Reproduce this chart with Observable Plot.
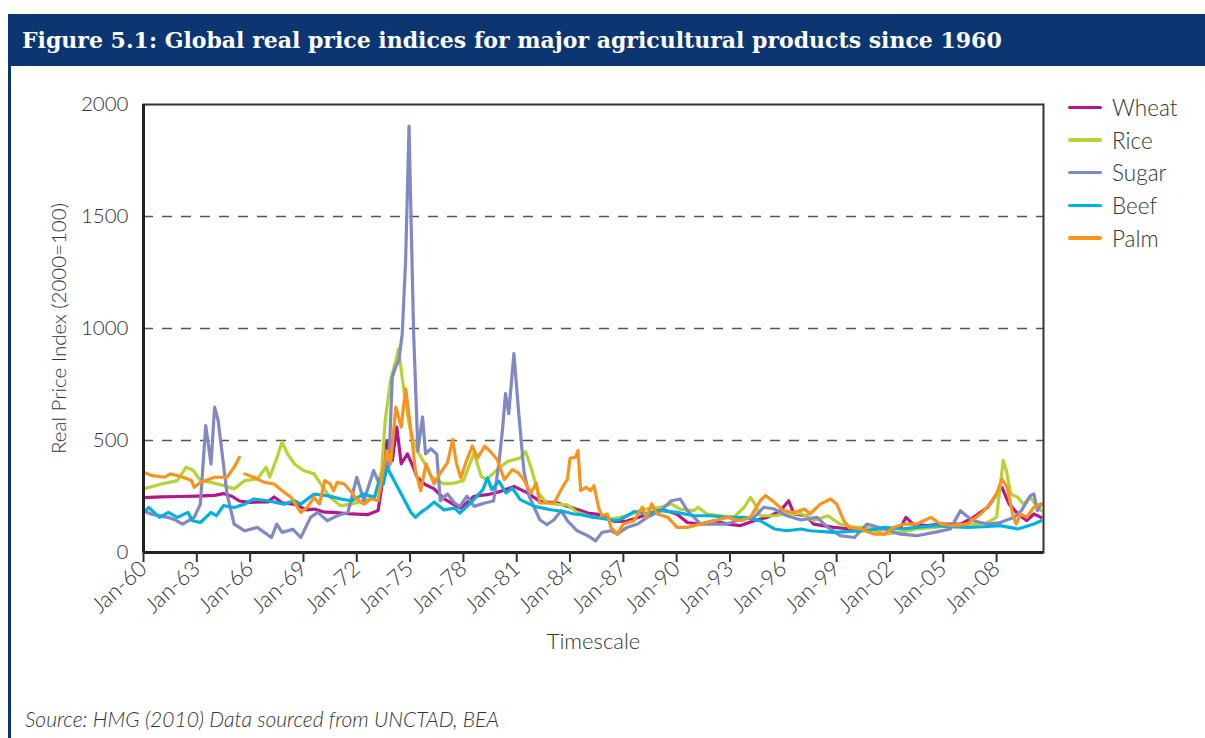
<!DOCTYPE html>
<html><head><meta charset="utf-8">
<script src="https://cdn.jsdelivr.net/npm/d3@7"></script>
<script src="https://cdn.jsdelivr.net/npm/@observablehq/plot@0.6"></script>
<style>
body{margin:0;background:#fff;width:1205px;height:738px;overflow:hidden;position:relative;font-family:Lato,"Open Sans",sans-serif;}
#header{position:absolute;left:8px;top:14px;width:1197px;height:52px;background:#0b3672;}
#title{position:absolute;left:22px;top:26px;color:#fff;font-weight:bold;font-size:22px;line-height:28px;font-family:"DejaVu Serif",serif;white-space:nowrap;}
#border{position:absolute;left:8px;top:66px;width:3px;height:672px;background:#0b3672;}
#chart{position:absolute;left:0;top:70px;}
#legend{position:absolute;left:1068px;top:91px;}
.li{height:32.7px;display:flex;align-items:center;font-size:22.5px;font-weight:300;color:#333;}
.sw{width:34px;height:3.5px;border-radius:2px;margin-right:10px;}
#caption{position:absolute;left:25px;top:706px;font-style:italic;font-weight:300;font-size:21px;color:#333;}
</style></head>
<body>
<div id="header"></div>
<div id="title">Figure 5.1: Global real price indices for major agricultural products since 1960</div>
<div id="border"></div>
<div id="chart"></div>
<div id="legend"></div>
<div id="caption">Source: HMG (2010) Data sourced from UNCTAD, BEA</div>
<script>
const seriesNames = ["Wheat","Rice","Sugar","Beef","Palm"];
const seriesColors = ["#b5178b","#b5d334","#8189c4","#00b0de","#f7941d"];
const xTickYears = [1960,1963,1966,1969,1972,1975,1978,1981,1984,1987,1990,1993,1996,1999,2002,2005,2008];
const yTicks = [0,500,1000,1500,2000];

const wheat = [[1960.0,245],[1961.0,248],[1962.0,250],[1963.0,252],[1964.0,255],[1964.5,263],[1965.0,250],[1965.4,230],[1966.0,224],[1967.0,226],[1967.35,248],[1967.8,222],[1968.5,215],[1969.2,190],[1969.6,194],[1970.2,180],[1970.7,179],[1971.7,172],[1972.6,169],[1973.2,187],[1973.4,291],[1973.7,500],[1974.0,410],[1974.25,560],[1974.5,396],[1974.85,440],[1975.1,396],[1975.4,336],[1975.8,306],[1976.35,284],[1976.9,240],[1977.3,221],[1977.85,198],[1978.6,251],[1979.35,258],[1980.1,273],[1980.85,295],[1981.6,266],[1982.3,228],[1983.3,221],[1984.2,198],[1985.0,176],[1985.7,169],[1986.47,139],[1987.2,140],[1988.0,161],[1988.6,178],[1989.1,194],[1990.0,172],[1990.6,134],[1991.35,127],[1992.1,142],[1992.85,127],[1993.6,120],[1994.35,142],[1995.1,157],[1995.85,187],[1996.3,231],[1996.6,172],[1997.3,164],[1997.7,127],[1998.85,112],[1999.8,105],[2000.7,105],[2001.7,105],[2002.6,112],[2002.9,157],[2003.3,127],[2004.1,120],[2004.85,127],[2005.97,127],[2006.7,157],[2007.5,202],[2008.0,261],[2008.3,291],[2008.7,217],[2009.2,172],[2009.7,142],[2010.1,172],[2010.5,157]];

const rice = [[1960.0,284],[1961.0,306],[1961.9,321],[1962.4,381],[1962.8,366],[1963.2,321],[1963.8,313],[1964.5,299],[1965.1,284],[1965.7,321],[1966.4,328],[1966.9,381],[1967.1,336],[1967.45,410],[1967.8,493],[1968.1,440],[1968.5,395],[1969.0,366],[1969.6,351],[1970.1,291],[1970.5,246],[1971.1,209],[1971.7,216],[1972.4,231],[1973.0,246],[1973.4,366],[1973.6,590],[1973.9,769],[1974.2,858],[1974.35,910],[1974.6,754],[1974.85,619],[1975.05,530],[1975.4,455],[1975.8,400],[1976.2,336],[1976.9,306],[1977.5,310],[1978.0,321],[1978.6,445],[1979.0,340],[1979.3,325],[1979.9,370],[1980.5,407],[1981.2,422],[1981.5,450],[1981.8,381],[1982.2,266],[1982.7,221],[1983.3,215],[1983.85,213],[1984.4,179],[1985.3,157],[1986.3,149],[1987.2,164],[1988.2,194],[1989.1,202],[1989.7,217],[1990.2,194],[1990.97,187],[1991.2,202],[1991.7,172],[1992.5,164],[1993.2,157],[1993.8,202],[1994.15,246],[1994.4,217],[1994.7,164],[1995.5,164],[1996.2,172],[1997.0,175],[1997.7,142],[1998.5,164],[1999.2,127],[2000.0,112],[2000.7,112],[2001.7,82],[2002.6,90],[2003.5,105],[2004.5,112],[2005.4,120],[2006.35,127],[2007.3,127],[2008.0,157],[2008.2,291],[2008.37,411],[2008.55,366],[2008.8,261],[2009.2,246],[2009.5,216],[2009.9,246],[2010.3,202],[2010.5,187]];

const sugar = [[1960.0,185],[1960.5,170],[1961.35,157],[1961.8,145],[1962.2,127],[1962.85,157],[1963.2,216],[1963.5,567],[1963.8,395],[1964.0,649],[1964.2,590],[1964.45,425],[1964.7,261],[1965.1,127],[1965.7,97],[1966.4,112],[1967.2,67],[1967.5,127],[1967.8,90],[1968.4,104],[1968.85,67],[1969.4,157],[1969.8,179],[1970.35,142],[1970.9,164],[1971.5,179],[1972.0,336],[1972.4,231],[1972.95,366],[1973.35,291],[1973.6,411],[1973.8,381],[1974.0,784],[1974.2,830],[1974.37,858],[1974.56,978],[1974.75,1306],[1974.94,1904],[1975.03,1575],[1975.2,978],[1975.44,455],[1975.7,605],[1975.87,440],[1976.16,463],[1976.5,440],[1976.7,231],[1977.1,261],[1977.5,221],[1977.8,206],[1978.2,251],[1978.6,206],[1979.2,221],[1979.7,230],[1980.0,400],[1980.2,549],[1980.37,709],[1980.55,620],[1980.84,888],[1981.1,635],[1981.4,366],[1981.7,251],[1982.3,146],[1982.7,124],[1983.1,146],[1983.5,187],[1983.85,142],[1984.4,97],[1985.0,75],[1985.44,52],[1985.8,90],[1986.3,97],[1986.66,82],[1987.2,112],[1987.8,127],[1988.35,157],[1989.1,187],[1989.7,231],[1990.2,239],[1990.6,187],[1991.35,127],[1992.1,127],[1992.85,127],[1993.6,149],[1994.35,157],[1994.9,202],[1995.5,194],[1996.2,164],[1997.0,145],[1997.9,157],[1998.5,112],[1999.2,75],[2000.0,67],[2000.7,127],[2001.7,105],[2002.6,82],[2003.5,75],[2004.5,90],[2005.4,105],[2005.97,187],[2006.3,164],[2006.7,142],[2007.5,127],[2008.2,134],[2009.0,157],[2009.4,187],[2009.9,254],[2010.1,261],[2010.3,187],[2010.5,216]];

const beef = [[1960.0,179],[1960.3,201],[1960.9,157],[1961.4,179],[1961.9,157],[1962.5,179],[1962.75,142],[1963.2,134],[1963.8,179],[1964.1,164],[1964.5,209],[1965.1,201],[1965.7,216],[1966.2,239],[1967.0,231],[1967.9,216],[1968.5,231],[1968.85,216],[1969.6,261],[1970.35,254],[1971.1,239],[1971.7,231],[1972.4,261],[1973.0,246],[1973.3,330],[1973.5,306],[1973.7,381],[1974.1,321],[1974.5,261],[1975.05,179],[1975.3,157],[1975.6,179],[1976.0,201],[1976.35,225],[1976.9,190],[1977.5,198],[1977.8,176],[1978.4,221],[1979.1,281],[1979.35,333],[1979.6,281],[1980.0,318],[1980.4,266],[1980.75,288],[1981.2,236],[1982.0,206],[1982.9,191],[1983.65,183],[1984.2,172],[1984.6,169],[1985.35,157],[1985.7,154],[1986.5,142],[1986.8,146],[1987.2,164],[1987.6,183],[1988.2,172],[1989.1,187],[1990.0,179],[1990.97,164],[1991.9,164],[1992.85,157],[1993.8,157],[1994.7,142],[1995.5,105],[1996.2,97],[1997.0,105],[1997.5,97],[1998.85,90],[2000.0,95],[2000.7,97],[2001.7,112],[2002.6,105],[2003.5,112],[2004.5,120],[2005.4,115],[2006.35,112],[2007.3,115],[2008.2,120],[2009.2,105],[2010.1,127],[2010.5,142]];

const palm = [[1960.0,358],[1960.5,343],[1961.2,336],[1961.5,351],[1962.1,339],[1962.7,321],[1962.85,291],[1963.2,313],[1964.0,336],[1964.7,336],[1965.1,381],[1965.4,425],[1965.55,null],[1965.7,351],[1966.2,336],[1966.8,313],[1967.35,306],[1967.8,276],[1968.3,246],[1968.85,179],[1969.2,201],[1969.6,246],[1969.9,216],[1970.2,321],[1970.5,306],[1970.7,276],[1970.9,313],[1971.3,306],[1971.7,269],[1972.0,239],[1972.4,216],[1972.8,239],[1973.2,231],[1973.5,381],[1973.7,455],[1973.9,396],[1974.2,649],[1974.5,560],[1974.75,731],[1975.05,545],[1975.3,366],[1975.6,276],[1975.9,396],[1976.35,306],[1976.7,355],[1977.1,400],[1977.4,504],[1977.6,400],[1977.85,333],[1978.2,415],[1978.5,475],[1978.8,422],[1979.2,475],[1979.5,452],[1979.9,415],[1980.3,325],[1980.75,370],[1981.1,355],[1981.4,325],[1981.8,266],[1982.1,310],[1982.3,221],[1983.1,221],[1983.6,295],[1983.85,325],[1984.0,420],[1984.3,425],[1984.45,455],[1984.6,276],[1984.9,291],[1985.16,276],[1985.35,299],[1985.6,202],[1985.8,164],[1986.1,172],[1986.3,112],[1986.66,82],[1987.0,127],[1987.6,142],[1988.06,202],[1988.3,157],[1988.6,217],[1988.9,172],[1989.5,157],[1990.03,112],[1990.6,112],[1991.35,127],[1992.1,142],[1992.85,157],[1993.6,142],[1994.15,157],[1994.7,231],[1995.0,254],[1995.5,224],[1996.0,187],[1996.6,179],[1997.2,194],[1997.5,172],[1998.1,217],[1998.66,239],[1999.0,217],[1999.4,142],[1999.7,112],[2000.35,105],[2001.1,82],[2001.7,82],[2002.2,112],[2002.8,127],[2003.5,127],[2004.3,157],[2004.85,127],[2005.6,120],[2006.35,127],[2007.1,172],[2007.65,217],[2008.0,261],[2008.3,328],[2008.6,291],[2008.9,172],[2009.1,127],[2009.35,172],[2009.7,157],[2010.1,202],[2010.5,217]];

const seriesData = [wheat, rice, sugar, beef, palm];
const rows = seriesNames.flatMap((name, i) => seriesData[i].map(([t, v]) => ({series: name, t, v})));

const chart = Plot.plot({
  width: 1205, height: 600,
  marginLeft: 143, marginRight: 162, marginTop: 34, marginBottom: 118,
  style: {fontFamily: "Lato, 'Open Sans', sans-serif", fontSize: "21px", fontWeight: 300, color: "#333", background: "transparent"},
  x: {domain: [1960, 2010.64]},
  y: {domain: [0, 2000]},
  color: {domain: seriesNames, range: seriesColors},
  marks: [
    Plot.ruleY([500, 1000, 1500], {stroke: "#555", strokeWidth: 1.5, strokeDasharray: "10,9"}),
    Plot.line(rows, {x: "t", y: "v", z: "series", stroke: "series", strokeWidth: 3.2, strokeLinejoin: "round"}),
    Plot.frame({stroke: "#333", strokeWidth: 2}),
    Plot.ruleX([1960], {stroke: "#222", strokeWidth: 3}),
    Plot.ruleY([0], {stroke: "#222", strokeWidth: 3}),
    Plot.axisY({ticks: yTicks, tickSize: 0, tickPadding: 15, tickFormat: d => String(d), fontSize: 20.5,
      label: "Real Price Index (2000=100)", labelAnchor: "center", labelArrow: "none", labelOffset: 92}),
    Plot.axisX({ticks: xTickYears, tickSize: 10, tickPadding: 3, strokeWidth: 2, stroke: "#333", fontSize: 22,
      tickFormat: d => "Jan-" + String(d).slice(2), tickRotate: -42,
      label: "Timescale", labelAnchor: "center", labelArrow: "none", labelOffset: 96})
  ]
});
document.getElementById("chart").appendChild(chart);

const legend = document.getElementById("legend");
seriesNames.forEach((name, i) => {
  const row = document.createElement("div");
  row.className = "li";
  const sw = document.createElement("div");
  sw.className = "sw";
  sw.style.background = seriesColors[i];
  const tx = document.createElement("span");
  tx.textContent = name;
  row.appendChild(sw); row.appendChild(tx);
  legend.appendChild(row);
});
</script>
</body></html>
